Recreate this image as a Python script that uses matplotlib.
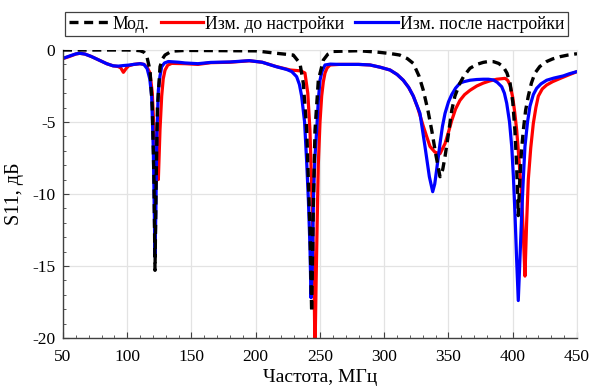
import matplotlib
matplotlib.use("Agg")
import matplotlib.pyplot as plt
from matplotlib.ticker import MultipleLocator

plt.rcParams['font.family'] = ['Liberation Serif', 'DejaVu Serif']
plt.rcParams['axes.unicode_minus'] = False
plt.rcParams['font.size'] = 13

# Model (dashed black)
model_f = [50, 100, 106, 110, 113, 115, 117.7, 119.5, 120.8, 121.6, 122.5, 123.5, 125.5, 127.5,
           129.4, 134.6, 145, 200, 216.3, 229.2, 234.4, 237, 239.7, 242.2, 243.5, 244.8, 246.1,
           248.7, 252.6, 256, 260.4, 280, 295, 305, 312, 318, 322.6, 327, 330.4, 334, 337, 340,
           343.4, 345.5, 347.3, 350, 352.5, 355, 358.9, 362, 366.7, 372, 377, 381, 385, 389,
           392.6, 395.5, 397.9, 400, 401.7, 403, 404.3, 405.5, 406.8, 408.2, 410, 412.1, 414.5,
           417.3, 421, 426.4, 431, 437, 443, 450]
model_db = [0.0, 0.0, -0.02, -0.05, -0.15, -0.35, -1.4, -4.0, -9.0, -15.3, -9.0, -4.0, -1.16, -0.6,
            -0.35, -0.08, -0.03, -0.06, -0.23, -0.35, -0.93, -2.3, -5.6, -12.5, -18.2, -11.0, -5.6,
            -2.1, -0.7, -0.3, -0.1, -0.05, -0.15, -0.25, -0.35, -0.6, -0.93, -1.8, -2.8, -4.2, -5.6, -7.2,
            -8.8, -8.3, -7.4, -5.8, -4.2, -3.2, -2.3, -1.8, -1.27, -1.0, -0.86, -0.8, -0.81, -0.93,
            -1.16, -1.6, -2.3, -3.6, -5.6, -8.0, -11.5, -9.0, -7.0, -5.6, -4.2, -3.2, -2.3,
            -1.6, -1.15, -0.8, -0.62, -0.46, -0.35, -0.26]

# Measured before tuning (red)
before_f = [50, 55, 60, 63, 67, 72, 78, 84, 89, 93, 95, 97, 99, 101, 105, 110, 113, 115.5, 117.7,
            119.5, 120.8, 122.5, 124.2, 125.5, 126.8, 128, 129.4, 131.5, 134.6, 145, 155, 165, 180,
            195, 205, 216, 227, 235, 238.3, 240.5, 242.2, 244, 245.5, 246.1, 247, 248, 248.7, 250,
            251.3, 252.6, 253.9, 255.5, 257.8, 265, 280, 289, 297, 304.5, 310, 314.8, 319, 322.6,
            326, 330.4, 335.6, 339.5, 343.4, 347.3, 350, 352.5, 355.5, 358.9, 362.5, 366.7, 372,
            377, 382, 387.5, 394, 396, 397.9, 400, 401.5, 403.1, 405, 407, 408.3, 409.5, 410.8,
            412.1, 414, 416, 418, 419.9, 423, 426.4, 431, 437, 443, 450]
before_db = [-0.6, -0.45, -0.28, -0.23, -0.28, -0.45, -0.7, -0.95, -1.1, -1.15, -1.25, -1.55, -1.3,
             -1.1, -1.0, -0.95, -1.0, -1.2, -1.6, -3.0, -5.6, -7.5, -9.0, -5.5, -3.2, -2.0, -1.4,
             -1.05, -0.93, -0.95, -1.0, -0.88, -0.85, -0.75, -0.85, -1.15, -1.39, -1.45, -1.6, -3.0,
             -5.6, -11.0, -17.0, -21.0, -16.0, -11.0, -7.9, -5.0, -3.2, -2.2, -1.6, -1.25, -1.04,
             -1.0, -1.0, -1.04, -1.2, -1.39, -1.7, -2.1, -2.6, -3.2, -4.0, -5.3, -6.7, -7.1, -7.2,
             -6.5, -5.7, -4.9, -4.1, -3.5, -3.1, -2.8, -2.5, -2.3, -2.15, -2.03, -1.97, -2.1, -2.43,
             -3.3, -4.3, -5.6, -7.8, -10.2, -13.0, -15.7, -12.0, -9.0, -6.8, -5.1, -4.0, -3.2, -2.7,
             -2.43, -2.2, -1.97, -1.75, -1.5]

# Measured after tuning (blue)
after_f = [50, 55, 60, 63, 67, 72, 78, 84, 89, 93, 97, 101, 105, 110, 113, 115.5, 117.5, 119,
           120.3, 121, 121.6, 122.3, 123, 124.2, 125.5, 126.8, 129, 132, 140, 145, 155, 165, 180,
           195, 205, 216, 224, 228, 231.8, 234, 235.7, 238, 239.7, 241, 242.2, 243, 244, 245, 246,
           247.4, 248.7, 250, 251.5, 253.9, 258, 265, 280, 289, 297, 304.5, 310, 314.8, 319, 322.6,
           327.8, 331.7, 335.1, 337.7, 339.3, 340.8, 343.4, 345.3, 347.3, 350, 352.5, 355.5, 358.9,
           362, 366.7, 372, 377, 381, 384.9, 388, 391.4, 393.5, 395.3, 397.5, 399.2, 400.5, 401.7,
           403, 404.3, 405.6, 407, 408.3, 409.5, 411.5, 413.4, 416, 418.6, 422, 426.4, 432, 439.3,
           444, 450]
after_db = [-0.58, -0.42, -0.27, -0.23, -0.28, -0.45, -0.7, -0.95, -1.1, -1.12, -1.08, -1.05, -1.0,
            -0.95, -1.0, -1.3, -2.0, -3.2, -7.0, -11.0, -14.35, -11.0, -6.0, -2.8, -1.8, -1.16, -0.9,
            -0.8, -0.85, -0.9, -0.95, -0.86, -0.83, -0.74, -0.85, -1.16, -1.35, -1.5, -1.85, -2.4,
            -3.2, -5.0, -7.9, -10.5, -13.7, -17.2, -15.0, -10.0, -7.5, -5.6, -3.5, -2.1, -1.5, -1.04,
            -0.98, -1.0, -1.0, -1.04, -1.2, -1.39, -1.7, -2.1, -2.6, -3.2, -4.4, -6.7, -8.8, -9.84,
            -9.3, -8.3, -6.5, -5.3, -4.4, -3.6, -3.1, -2.65, -2.3, -2.2, -2.1, -2.05, -2.03, -2.03,
            -2.08, -2.25, -2.55, -3.0, -3.7, -5.0, -6.7, -8.8, -11.3, -14.5, -17.4, -14.5, -11.3,
            -8.8, -6.7, -5.0, -3.9, -3.1, -2.66, -2.35, -2.1, -1.95, -1.8, -1.65, -1.5]

labels = ['Мод.', 'Изм. до настройки', 'Изм. после настройки']
x_ticks = [50, 100, 150, 200, 250, 300, 350, 400, 450]
y_ticks = [0, -5, -10, -15, -20]

fig = plt.figure(figsize=(5.92, 3.87), dpi=100)
ax = fig.add_axes([63 / 592, 1 - 338 / 387, 514 / 592, 288 / 387])

ax.grid(True, color='#e3e3e3', linewidth=0.9, zorder=0)
l1, = ax.plot(model_f, model_db, color='black', linestyle=(0, (2.7, 1.7)), linewidth=2.4,
              label=labels[0], zorder=3)
l2, = ax.plot(before_f, before_db, color='#ff0000', linewidth=2.3, label=labels[1], zorder=2)
l3, = ax.plot(after_f, after_db, color='#0000ff', linewidth=2.3, label=labels[2], zorder=2.5)

ax.set_xlim(50, 450)
ax.set_ylim(-20, 0)
ax.set_xticks(x_ticks)
ax.set_yticks(y_ticks)
ax.xaxis.set_minor_locator(MultipleLocator(10))
ax.yaxis.set_minor_locator(MultipleLocator(1))
ax.tick_params(which='both', direction='in', color='#404040')
ax.tick_params(which='major', length=4, labelsize=12.5)
ax.tick_params(axis='x', which='major', pad=8)
ax.tick_params(axis='y', which='major', pad=5.5)
ax.tick_params(which='minor', length=2.5)
ax.tick_params(top=False, right=False, which='both')
for s in ['left', 'bottom']:
    ax.spines[s].set_color('#404040')
    ax.spines[s].set_linewidth(1.0)
for s in ['top', 'right']:
    ax.spines[s].set_color('#e3e3e3')

ax.set_xlabel('Частота, МГц', fontsize=14, labelpad=3)
ax.set_ylabel('S11, дБ', fontsize=14.5, labelpad=6)

leg = fig.legend(handles=[l1, l2, l3], loc='upper left', ncol=3,
                 bbox_to_anchor=(65 / 592, 1 - 12 / 387),
                 borderaxespad=0, fontsize=12.7, fancybox=False,
                 edgecolor='#404040', framealpha=1, handlelength=2.4, handletextpad=0.12,
                 columnspacing=0.62, borderpad=0.2)
leg.get_frame().set_linewidth(0.9)

fig.savefig('out.png', dpi=100)
